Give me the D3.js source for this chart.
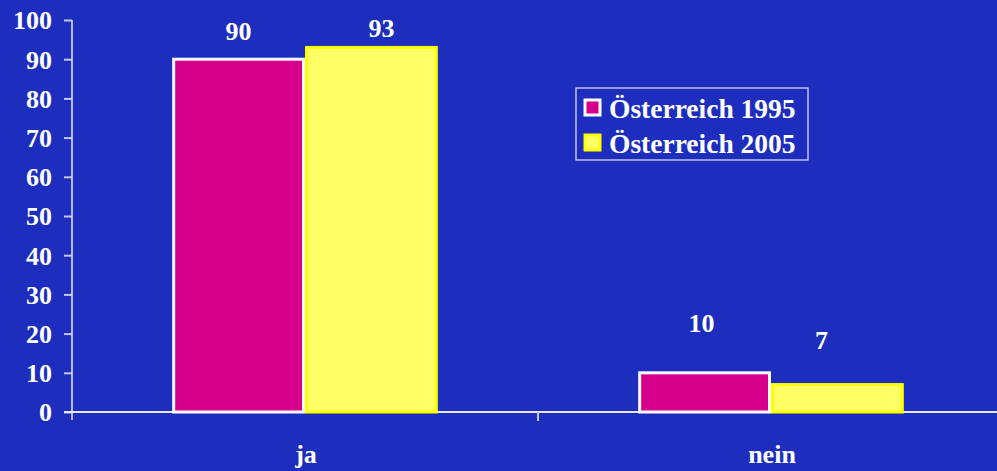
<!DOCTYPE html>
<html><head><meta charset="utf-8">
<script src="https://cdn.jsdelivr.net/npm/d3@7"></script>
<style>html,body{margin:0;padding:0;background:#1d2dbd;overflow:hidden}</style>
</head><body>
<svg id="c" width="997" height="471"></svg>
<script>
const categories = ["ja", "nein"];
const seriesNames = ["Österreich 1995", "Österreich 2005"];
const values1995 = [90, 10];
const values2005 = [93, 7];
const yTicks = [0, 10, 20, 30, 40, 50, 60, 70, 80, 90, 100];
// label placement styles (per series, per category)
const labelLift = [[19, 41], [10, 36]];
const labelShift = [[0, -3], [10, -16]];

const W = 997, H = 471;
const margin = {left: 72, top: 20};
const plotW = 932, plotH = 392;
const colors = ["#d6008c", "#ffff66"];
const strokes = ["#ffffff", "#ffff00"];
const font = "'Liberation Serif','Times New Roman',serif";

const svg = d3.select("#c");
svg.append("rect").attr("width", W).attr("height", H).attr("fill", "#1d2dbd");

const x = d3.scaleBand().domain(categories).range([margin.left, margin.left + plotW]);
const xs = d3.scaleBand().domain(seriesNames).range([0, x.bandwidth() * 0.57]);
const y = d3.scaleLinear().domain([0, 100]).range([margin.top + plotH, margin.top]);

// Y axis
const yAxis = svg.append("g").attr("transform", `translate(${margin.left},0)`)
  .call(d3.axisLeft(y).tickValues(yTicks).tickSize(8).tickPadding(12).tickFormat(d3.format("d")));
yAxis.select(".domain").remove();
yAxis.selectAll(".tick line").attr("stroke", "#c8c8e8").attr("stroke-width", 2);
yAxis.selectAll("text").attr("fill", "#fff").attr("font-family", font)
  .attr("font-weight", "bold").attr("font-size", 26).attr("dy", "0.34em");
svg.append("line").attr("x1", margin.left).attr("x2", margin.left)
  .attr("y1", y(100)).attr("y2", y(0) + 8).attr("stroke", "#e8e8f4").attr("stroke-width", 1.5);

// X axis
svg.append("line").attr("x1", margin.left - 8).attr("x2", W)
  .attr("y1", y(0)).attr("y2", y(0)).attr("stroke", "#e8e8f4").attr("stroke-width", 2);
const bounds = [x.domain()[0]].map(d => x(d) + x.bandwidth());
bounds.forEach(b => svg.append("line").attr("x1", b).attr("x2", b)
  .attr("y1", y(0)).attr("y2", y(0) + 9).attr("stroke", "#c8c8e8").attr("stroke-width", 2));
svg.selectAll(".cat").data(categories).enter().append("text")
  .attr("x", d => x(d) + x.bandwidth() / 2 + 1).attr("y", 463)
  .attr("text-anchor", "middle").attr("fill", "#fff").attr("font-family", font)
  .attr("font-weight", "bold").attr("font-size", 26).text(d => d);

// Bars
const series = [values1995, values2005];
series.forEach((vals, si) => {
  const g = svg.append("g");
  g.selectAll("rect").data(categories).enter().append("rect")
    .attr("x", d => x(d) + x.bandwidth() / 2 - xs.range()[1] / 2 + xs(seriesNames[si]) + 1.5)
    .attr("y", (d, i) => y(vals[i]))
    .attr("width", xs.bandwidth() - 3)
    .attr("height", (d, i) => y(0) - y(vals[i]))
    .attr("fill", colors[si]).attr("stroke", strokes[si]).attr("stroke-width", 3);
});
series.forEach((vals, si) => {
  svg.append("g").selectAll("text").data(categories).enter().append("text")
    .attr("x", (d, i) => x(d) + x.bandwidth() / 2 - xs.range()[1] / 2 + xs(seriesNames[si]) + xs.bandwidth() / 2 + labelShift[si][i])
    .attr("y", (d, i) => y(vals[i]) - labelLift[si][i])
    .attr("text-anchor", "middle").attr("fill", "#fff").attr("font-family", font)
    .attr("font-weight", "bold").attr("font-size", 26).text((d, i) => vals[i]);
});

// Legend
const lg = svg.append("g").attr("transform", "translate(576,88)");
lg.append("rect").attr("width", 232).attr("height", 72).attr("fill", "none")
  .attr("stroke", "#e8e8f4").attr("stroke-width", 1.2);
seriesNames.forEach((n, i) => {
  lg.append("rect").attr("x", 9).attr("y", 12 + i * 35).attr("width", 15).attr("height", 15)
    .attr("fill", colors[i]).attr("stroke", strokes[i]).attr("stroke-width", 3);
  lg.append("text").attr("x", 33).attr("y", 30 + i * 35).attr("fill", "#fff")
    .attr("font-family", font).attr("font-weight", "bold").attr("font-size", 27.5).text(n);
});
</script>
</body></html>
